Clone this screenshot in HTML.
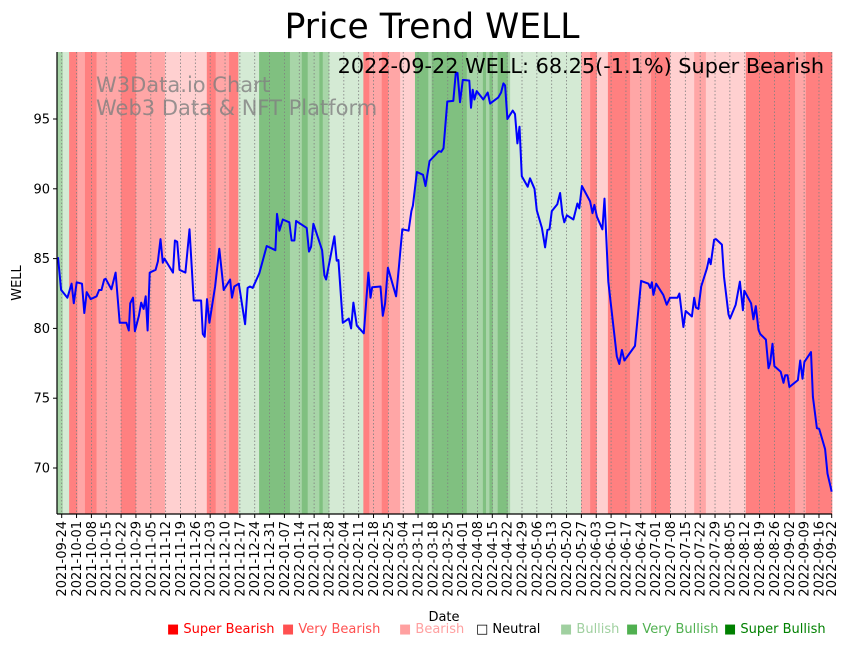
<!DOCTYPE html>
<html><head><meta charset="utf-8">
<style>
html,body{margin:0;padding:0;background:#fff;}
svg{display:block;font-family:"DejaVu Sans","Liberation Sans",sans-serif;}
</style></head>
<body>
<svg id="chart" width="851" height="646" viewBox="0 0 851 646" xmlns="http://www.w3.org/2000/svg">
<text x="432" y="38" font-size="34.5" text-anchor="middle">Price Trend WELL</text>
<g id="bands"></g>
<g id="grid"></g>
<g fill="#808080" fill-opacity="0.8" font-size="21">
<text x="96" y="92">W3Data.io Chart</text>
<text x="96" y="115">Web3 Data &amp; NFT Platform</text>
</g>
<path id="priceLine" fill="none" stroke="#0000ff" stroke-width="2" stroke-linejoin="round"/>
<text x="824" y="73" font-size="20.8" text-anchor="end">2022-09-22 WELL: 68.25(-1.1%) Super Bearish</text>
<g id="axes"></g>
<text transform="translate(21,283) rotate(-90)" font-size="13" text-anchor="middle">WELL</text>
<text x="444" y="621" font-size="13" text-anchor="middle">Date</text>
<g font-size="13">
<text x="167" y="633" fill="#ff0000">■ Super Bearish</text>
<text x="282" y="633" fill="#ff5050">■ Very Bearish</text>
<text x="399" y="633" fill="#ffa0a0">■ Bearish</text>
<text x="476" y="633" fill="#000">□ Neutral</text>
<text x="560" y="633" fill="#a0d0a0">■ Bullish</text>
<text x="626" y="633" fill="#50b050">■ Very Bullish</text>
<text x="724" y="633" fill="#008000">■ Super Bullish</text>
</g>
</svg>
<script>
// day offsets from 2021-09-24 (plot scale)
const days=[-2,-0.3,2.7,4.7,5.7,7.1,9.6,10.7,11.8,13.7,16.5,17.7,18.8,20.1,20.8,23.5,25.5,27.4,30.6,31.7,32.4,33.7,34.6,36.5,37.6,38.7,39.7,40.6,41.6,44.4,45.5,46.7,47.8,48.6,52.6,53.5,54.6,55.7,58.5,60.4,62.4,65.9,66.7,67.6,68.7,69.8,72.5,74.5,76.6,79.6,80.5,81.6,83.7,86.7,87.9,89.0,90.3,93.4,95.3,96.9,101.0,101.8,102.9,104.5,107.6,108.7,110.0,110.8,115.8,116.9,117.9,119.0,123.1,124.2,125.0,128.9,130.0,130.8,132.9,135.7,136.8,137.9,139.5,142.8,145.0,146.0,146.8,150.7,151.8,152.9,154.2,158.1,159.4,161.0,164.0,165.3,166.0,167.9,170.8,172.0,173.9,177.1,178.3,179.4,180.5,182.3,185.1,186.3,187.1,188.3,189.6,192.7,193.5,194.3,195.1,196.2,199.3,201.4,202.5,206.4,207.7,208.8,209.6,210.7,213.2,214.3,215.4,216.4,217.5,220.3,221.4,223.5,224.6,227.0,228.5,229.6,230.6,231.7,234.3,235.6,236.7,237.6,238.8,241.9,243.8,244.7,245.9,249.8,250.9,251.8,253.0,255.6,256.6,258.4,262.4,263.6,264.8,266.0,271.0,273.9,277.4,278.2,279.0,279.7,281.0,284.4,286.0,287.6,291.1,292.0,293.9,295.0,297.9,299.0,299.8,301.0,302.3,305.0,306.0,306.8,308.4,309.3,312.1,313.1,315.2,315.9,318.6,320.6,322.0,322.7,325.9,327.0,328.1,329.4,330.2,332.9,334.1,334.9,336.0,336.9,339.9,341.2,342.0,343.1,344.0,348.0,349.1,350.2,351.1,354.2,355.1,357.0,358.1,360.9,362.0,364.0];
const prices=[85.1,82.76,82.2,83.2,81.8,83.3,83.2,81.1,82.6,82.1,82.3,82.75,82.75,83.5,83.55,82.8,84.0,80.4,80.4,79.85,81.8,82.2,79.8,80.9,81.85,81.4,82.3,79.85,84.0,84.2,84.8,86.4,84.7,85.0,84.0,86.3,86.2,84.2,84.0,87.1,82.0,82.0,79.6,79.4,82.1,80.4,83.0,85.7,82.75,83.5,82.2,83.0,83.2,80.3,82.9,83.0,82.9,83.95,85.0,85.9,85.6,88.2,87.0,87.8,87.6,86.3,86.3,87.7,87.2,85.5,85.85,87.5,85.6,83.8,83.5,86.6,84.85,84.9,80.4,80.7,80.0,81.85,80.2,79.65,84.0,82.2,82.95,83.0,80.9,81.8,84.35,82.3,84.4,87.1,87.0,88.4,88.8,91.2,91.0,90.2,92.0,92.5,92.7,92.65,92.9,96.25,96.3,98.3,98.3,96.2,97.8,97.75,95.8,97.1,96.4,97.0,96.4,96.9,96.1,96.55,96.9,97.55,97.4,95.0,95.6,95.35,93.25,94.45,90.9,90.15,90.75,90.0,88.45,87.2,85.8,87.05,87.1,88.4,88.9,89.7,88.2,87.6,88.1,87.8,88.95,88.6,90.2,89.1,88.25,88.85,88.0,87.1,89.3,83.35,78.0,77.45,78.45,77.7,78.75,83.4,83.2,82.9,83.3,82.4,83.2,82.4,81.7,82.2,82.2,82.5,80.1,81.25,80.85,82.2,81.5,81.4,83.0,84.3,85.0,84.6,86.35,86.4,86.0,83.7,81.0,80.7,81.7,83.35,81.3,82.7,81.8,80.65,81.6,79.9,79.6,79.2,77.15,77.5,78.9,77.3,76.9,76.1,76.65,76.65,75.8,76.3,77.7,76.4,77.6,78.3,75.1,72.85,72.8,71.35,69.6,68.3];
// sentiment bands: start day and level (-3 super bearish .. 3 super bullish)
const bandStarts=[-2.1,0.5,3.5,7.4,11.0,16.5,28.0,35.1,48.8,68.6,72.8,79.1,83.5,93.3,107.9,113.5,116.3,121.8,123.4,126.5,142.6,145.4,151.3,154.4,160.0,167.0,173.3,174.9,191.5,199.1,200.6,202.2,203.8,206.1,210.9,212.0,245.5,249.8,253.0,258.2,268.7,278.6,287.6,299.0,304.5,323.4,346.7,351.8];
const bandLevels=[2,1,-3,-2,-3,-2,-3,-2,-1,-3,-2,-3,1,3,2,3,2,3,2,1,-3,-2,-3,-2,-1,3,2,3,2,3,2,3,2,3,2,1,-2,-3,-1,-3,-2,-3,-1,-2,-1,-3,-2,-3];
const bandEnd=364.5;
const yTicks=[70,75,80,85,90,95];
const startDate=new Date(Date.UTC(2021,8,24));
const weeklyTicks=52;
const lastDayReal=363;

const X0=57,X1=832,Y0=52,Y1=514;
const xs=d=>61.7+d*(770/364);
const xt=d=>61.7+d*(770/lastDayReal);
const ys=v=>119+(95-v)*13.96;
const NS='http://www.w3.org/2000/svg';
const colors={'-3':'#ff8080','-2':'#ffa6a6','-1':'#ffd0d0','0':'#ffffff','1':'#d4ead4','2':'#a8d5a8','3':'#80c080'};
function mk(tag,attrs,parent){const e=document.createElementNS(NS,tag);for(const k in attrs)e.setAttribute(k,attrs[k]);parent.appendChild(e);return e;}

const bands=document.getElementById('bands');
for(let i=0;i<bandStarts.length;i++){
  const a=Math.max(X0,xs(bandStarts[i]));
  const b=Math.min(X1,xs(i+1<bandStarts.length?bandStarts[i+1]:bandEnd));
  const r=mk('rect',{x:a,y:Y0,width:Math.max(0,b-a+0.3),height:Y1-Y0,fill:colors[bandLevels[i]]},bands);
  
  
}
const grid=document.getElementById('grid');
const axes=document.getElementById('axes');
const tickDays=[];
for(let i=0;i<weeklyTicks;i++)tickDays.push(i*7);
tickDays.push(lastDayReal);
tickDays.forEach(dd=>{
  const x=xt(dd);
  const g=mk('line',{x1:x,x2:x,y1:Y0,y2:Y1,stroke:'#808080','stroke-width':0.8,'stroke-dasharray':'1.5,2'},grid);
  
  
  mk('line',{x1:x,x2:x,y1:Y1,y2:Y1+4,stroke:'#000','stroke-width':1},axes);
  const d=new Date(startDate.getTime()+dd*86400000);
  const lab=d.toISOString().slice(0,10);
  const t=mk('text',{transform:`translate(${x+4.5},${Y1+7}) rotate(-90)`,'font-size':13,'text-anchor':'end'},axes);
  
  
  t.textContent=lab;
});
yTicks.forEach(v=>{
  const y=ys(v);
  mk('line',{x1:X0-4,x2:X0,y1:y,y2:y,stroke:'#000','stroke-width':1},axes);
  const t=mk('text',{x:X0-7,y:y+4.5,'font-size':13,'text-anchor':'end'},axes);
  
  
  t.textContent=v;
});
mk('line',{x1:X0,x2:X0,y1:Y0,y2:Y1,stroke:'#000','stroke-width':1.2},axes);
mk('line',{x1:X0,x2:X1,y1:Y1,y2:Y1,stroke:'#000','stroke-width':1.2},axes);
let dstr='';
for(let i=0;i<days.length;i++){dstr+=(i?'L':'M')+Math.max(X0+1,xs(days[i])).toFixed(1)+','+ys(prices[i]).toFixed(1);}
document.getElementById('priceLine').setAttribute('d',dstr);
</script>
</body></html>
